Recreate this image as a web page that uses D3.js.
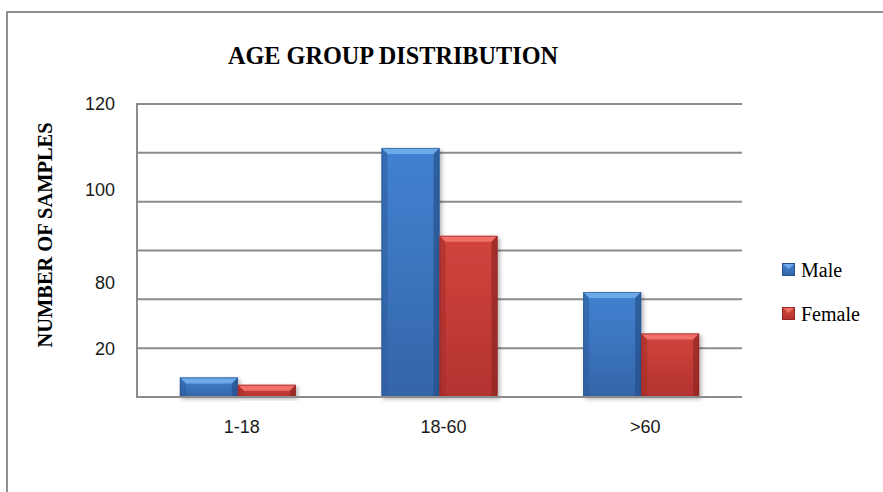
<!DOCTYPE html>
<html>
<head>
<meta charset="utf-8">
<script src="https://cdn.jsdelivr.net/npm/d3@7"></script>
<style>
  html, body { margin: 0; padding: 0; background: #fff; }
  svg { display: block; }
</style>
</head>
<body>
<svg id="chart" width="883" height="492"></svg>
<script>
// Age groups and sample counts per sex
const categories = ["1-18", "18-60", ">60"];
const seriesNames = ["Male", "Female"];
const maleValues = [8, 102, 43];
const femaleValues = [5, 66, 26];
// Grid every 20 samples; axis labels as printed on the chart
const gridValues = [0, 20, 40, 60, 80, 100, 120];
const tickLabels = ["120", "100", "80", "20"];
const tickLabelAt = [120, 85, 47, 20];

const svg = d3.select("#chart");
const plot = { left: 137, right: 742, top: 104, bottom: 397 };

const palette = {
  Male:   { body: ["#4282d2", "#3465a8"], top: "#6ea9ea", side: "#2e5c9c", dark: "#27508a" },
  Female: { body: ["#d2443e", "#b3332f"], top: "#f0706a", side: "#a22c29", dark: "#8e2624" }
};

const defs = svg.append("defs");
seriesNames.forEach(name => {
  const g = defs.append("linearGradient")
    .attr("id", "grad-" + name).attr("x1", 0).attr("y1", 0).attr("x2", 0).attr("y2", 1);
  g.append("stop").attr("offset", "0%").attr("stop-color", palette[name].body[0]);
  g.append("stop").attr("offset", "100%").attr("stop-color", palette[name].body[1]);
});
const shadow = defs.append("filter").attr("id", "shadow")
  .attr("x", "-20%").attr("y", "-20%").attr("width", "150%").attr("height", "150%");
shadow.append("feDropShadow").attr("dx", 2).attr("dy", 2).attr("stdDeviation", 2)
  .attr("flood-color", "#000").attr("flood-opacity", 0.3);

// Outer frame
svg.append("path")
  .attr("d", "M7,492 L7,12 L883,12")
  .attr("fill", "none").attr("stroke", "#8f8f8f").attr("stroke-width", 2);

const y = d3.scaleLinear().domain([0, 120]).range([plot.bottom, plot.top]);
const x0 = d3.scaleBand().domain(categories).range([plot.left, plot.right])
  .paddingInner(0.425).paddingOuter(0.2125);
const x1 = d3.scaleBand().domain(seriesNames).range([0, x0.bandwidth()]);

// Horizontal gridlines
svg.append("g").selectAll("line").data(gridValues).join("line")
  .attr("x1", plot.left).attr("x2", plot.right)
  .attr("y1", d => y(d)).attr("y2", d => y(d))
  .attr("stroke", "#8c8c8c").attr("stroke-width", 2);

// Vertical axis line
svg.append("line")
  .attr("x1", plot.left).attr("x2", plot.left)
  .attr("y1", y(120) - 1).attr("y2", y(0) + 1)
  .attr("stroke", "#8c8c8c").attr("stroke-width", 2);

// Y tick labels
svg.append("g").selectAll("text").data(tickLabels).join("text")
  .attr("x", 115)
  .attr("y", (d, i) => y(tickLabelAt[i]))
  .attr("dy", "0.36em")
  .attr("text-anchor", "end")
  .attr("font-family", "Liberation Sans, Arial, sans-serif")
  .attr("font-size", 18)
  .attr("fill", "#1a1a1a")
  .text(d => d);

// Bars with bevelled edges
const rows = [];
categories.forEach((c, i) => {
  rows.push({ cat: c, name: "Male", value: maleValues[i] });
  rows.push({ cat: c, name: "Female", value: femaleValues[i] });
});

const bars = svg.append("g").selectAll("g").data(rows).join("g")
  .attr("filter", "url(#shadow)");

bars.each(function(d) {
  const g = d3.select(this);
  const bx = x0(d.cat) + x1(d.name);
  const bw = x1.bandwidth();
  const by = y(d.value);
  const bh = y(0) - by;
  const b = Math.min(6, bh / 2);
  const p = palette[d.name];
  g.append("rect").attr("x", bx).attr("y", by).attr("width", bw).attr("height", bh)
    .attr("fill", "url(#grad-" + d.name + ")");
  // top bevel
  g.append("path")
    .attr("d", `M${bx},${by} L${bx + bw},${by} L${bx + bw - b},${by + b} L${bx + b},${by + b} Z`)
    .attr("fill", p.top);
  // left bevel
  g.append("path")
    .attr("d", `M${bx},${by} L${bx + b},${by + b} L${bx + b},${by + bh} L${bx},${by + bh} Z`)
    .attr("fill", p.side).attr("opacity", 0.55);
  // right bevel
  g.append("path")
    .attr("d", `M${bx + bw},${by} L${bx + bw - b},${by + b} L${bx + bw - b},${by + bh} L${bx + bw},${by + bh} Z`)
    .attr("fill", p.dark).attr("opacity", 0.7);
  // outline
  g.append("rect").attr("x", bx + 0.5).attr("y", by + 0.5).attr("width", bw - 1).attr("height", bh - 1)
    .attr("fill", "none").attr("stroke", p.dark).attr("stroke-width", 1).attr("opacity", 0.6);
});

// Baseline drawn over the bars
svg.append("line")
  .attr("x1", plot.left).attr("x2", plot.right)
  .attr("y1", y(0)).attr("y2", y(0))
  .attr("stroke", "#8c8c8c").attr("stroke-width", 2);

// Category labels
svg.append("g").selectAll("text").data(categories).join("text")
  .attr("x", d => x0(d) + x0.bandwidth() / 2 + 4)
  .attr("y", 433)
  .attr("text-anchor", "middle")
  .attr("font-family", "Liberation Sans, Arial, sans-serif")
  .attr("font-size", 18)
  .attr("fill", "#1a1a1a")
  .text(d => d);

// Title
svg.append("text")
  .attr("x", 393).attr("y", 64)
  .attr("text-anchor", "middle")
  .attr("font-family", "Liberation Serif, Times New Roman, serif")
  .attr("font-weight", "bold")
  .attr("font-size", 25)
  .attr("textLength", 330).attr("lengthAdjust", "spacingAndGlyphs")
  .attr("fill", "#000")
  .text("AGE GROUP DISTRIBUTION");

// Y axis title
svg.append("text")
  .attr("transform", "translate(52,235) rotate(-90)")
  .attr("text-anchor", "middle")
  .attr("font-family", "Liberation Serif, Times New Roman, serif")
  .attr("font-weight", "bold")
  .attr("font-size", 21)
  .attr("textLength", 225).attr("lengthAdjust", "spacingAndGlyphs")
  .attr("fill", "#000")
  .text("NUMBER OF SAMPLES");

// Legend
const legend = svg.append("g").selectAll("g").data(seriesNames).join("g")
  .attr("transform", (d, i) => `translate(782,${263 + i * 44})`);
legend.each(function(d) {
  const g = d3.select(this);
  const p = palette[d];
  g.append("rect").attr("width", 13).attr("height", 13).attr("fill", "url(#grad-" + d + ")");
  g.append("path").attr("d", "M0,0 L13,0 L6.5,6 Z").attr("fill", p.top);
  g.append("rect").attr("x", 0.5).attr("y", 0.5).attr("width", 12).attr("height", 12)
    .attr("fill", "none").attr("stroke", p.dark).attr("stroke-width", 1);
  g.append("text").attr("x", 19).attr("y", 13.5)
    .attr("font-family", "Liberation Serif, Times New Roman, serif")
    .attr("font-size", 20).attr("fill", "#000")
    .text(d);
});
</script>
</body>
</html>
